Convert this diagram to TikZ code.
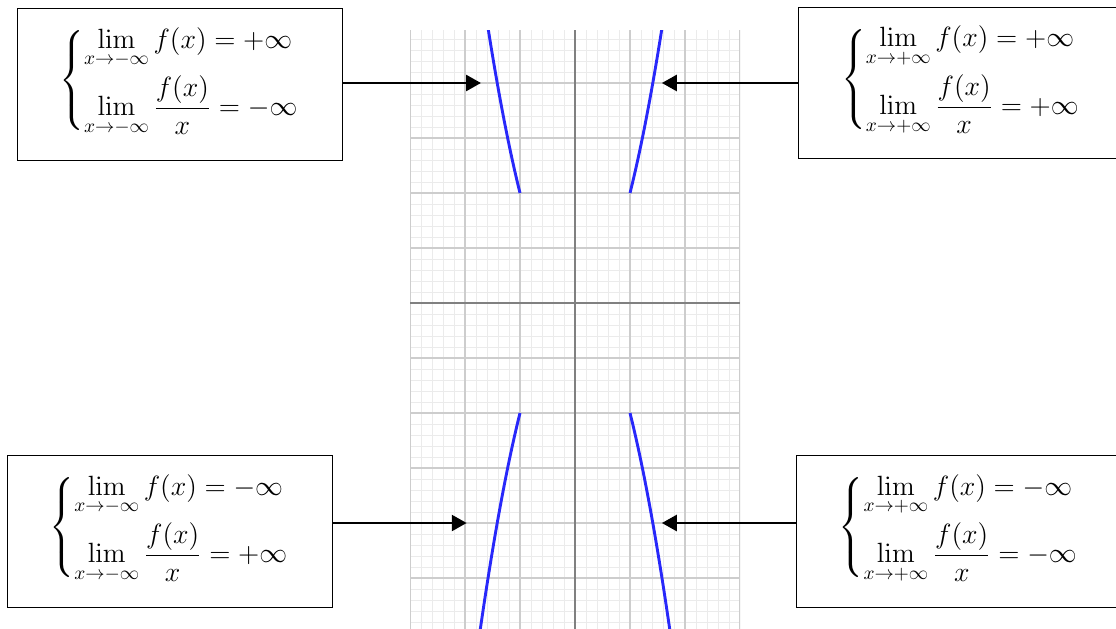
\documentclass[tikz,border=0pt]{standalone}
\usepackage{amsmath}
\usetikzlibrary{arrows.meta}
\definecolor{minorgray}{RGB}{235,235,235}
\definecolor{majorgray}{RGB}{205,205,205}
\definecolor{axisgray}{RGB}{128,128,128}
\definecolor{curveblue}{RGB}{40,40,250}
\newcommand{\limsys}[3]{%
  \raisebox{0pt}[\height][\dimexpr\depth+4pt\relax]{%
  $\delimitershortfall=14pt\delimiterfactor=850
  \left\{\begin{array}{@{}l@{}}
    \displaystyle\lim_{x\to#1\infty} f(x) = #2\infty\\[9pt]
    \displaystyle\lim_{x\to#1\infty} \frac{f(x)}{x} = #3\infty
  \end{array}\right.$}}
\tikzset{
  limbox/.style={draw, line width=0.5pt, minimum width=5.91cm,
    minimum height=2.76cm, inner sep=0pt, font=\Large},
  pointer/.style={line width=1.3pt, -{Triangle[length=0.27cm, width=0.29cm]}},
  branch/.style={curveblue, line width=1.5pt, samples=40}
}
\begin{document}
\begin{tikzpicture}
    \useasboundingbox (-10.4545,-5.909) rectangle (9.836,5.509);

    % grid
    \begin{scope}
      \clip (-3,-5.909) rectangle (3,4.96);
      \draw[minorgray, line width=0.5pt, step=0.2] (-3,-6) grid (3,5);
      \draw[majorgray, line width=0.9pt, step=1] (-3,-6) grid (3,5);
      \draw[axisgray, line width=1pt] 
        (-3,0) -- (3,0)
        (0,-6) -- (0,5)
      ;
    \end{scope}

    % branches of the curve
    \begin{scope}
      \clip (-3,-5.909) rectangle (3,4.96);
      \draw[branch, domain=1:1.6] plot (\x, {2*\x*\x});
      \draw[branch, domain=-1:-1.6] plot (\x, {2*\x*\x});
      \draw[branch, domain=1:1.75] plot (\x, {-2*\x*\x});
      \draw[branch, domain=-1:-1.75] plot (\x, {-2*\x*\x});
    \end{scope}

    % limit boxes
    \node[limbox] (upleft) at (-7.19, 3.98) {\limsys{-}{+}{-}};
    \node[limbox] (upright) at (7.02, 4.0) {\limsys{+}{+}{+}};
    \node[limbox] (lowleft) at (-7.37, -4.15) {\limsys{-}{-}{+}};
    \node[limbox] (lowright) at (6.98, -4.15) {\limsys{+}{-}{-}};

    \coordinate (tipUL) at (-1.71, 4);
    \coordinate (tipUR) at (1.58, 4);
    \coordinate (tipLL) at (-1.97, -4);
    \coordinate (tipLR) at (1.58, -4);

    \draw[pointer] (upleft.east |- tipUL) -- (tipUL);
    \draw[pointer] (upright.west |- tipUR) -- (tipUR);
    \draw[pointer] (lowleft.east |- tipLL) -- (tipLL);
    \draw[pointer] (lowright.west |- tipLR) -- (tipLR);
  \end{tikzpicture}
\end{document}
